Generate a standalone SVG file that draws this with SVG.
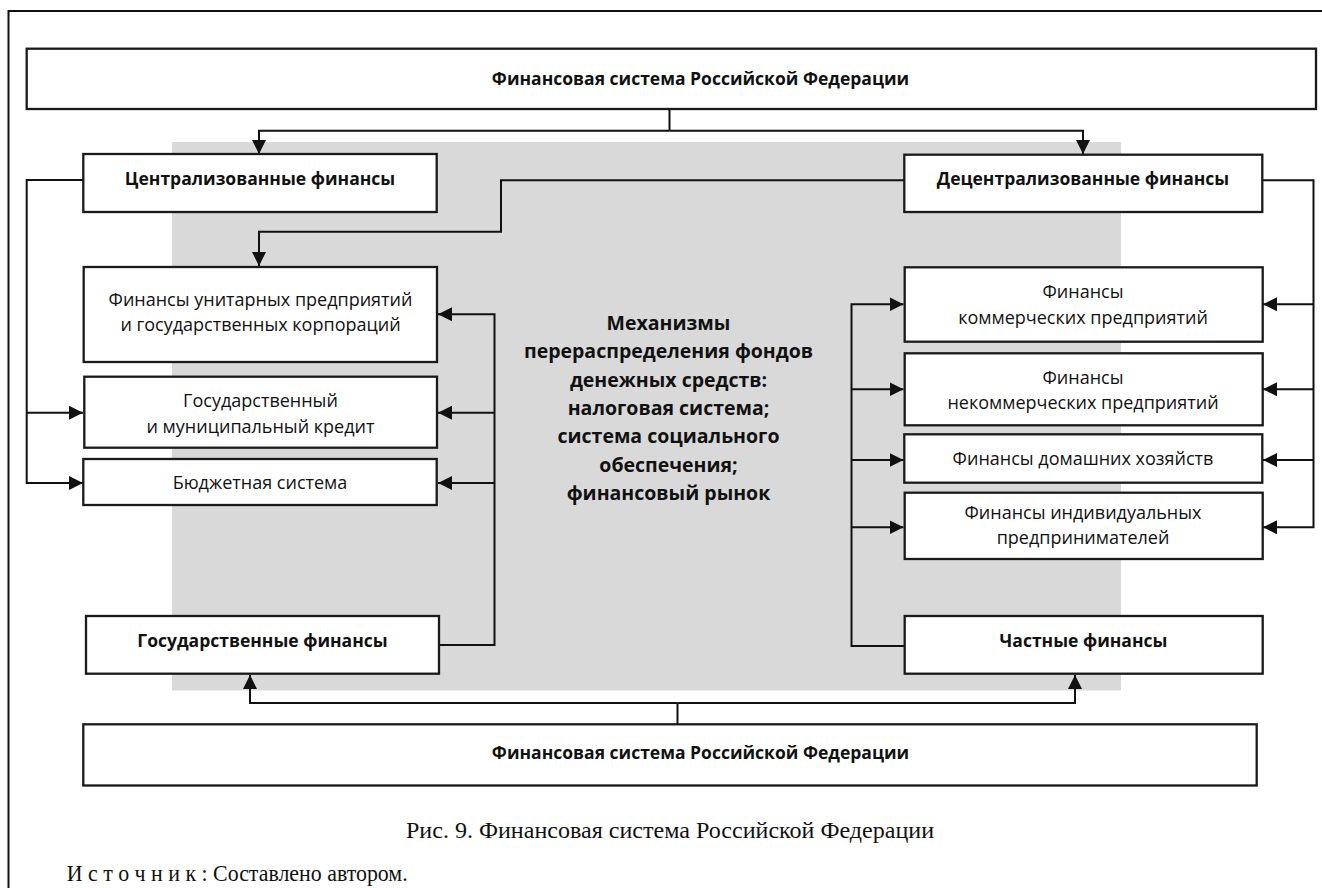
<svg xmlns="http://www.w3.org/2000/svg" width="1322" height="888" viewBox="0 0 1322 888">
  <defs>
    <marker id="arrow" markerUnits="userSpaceOnUse" markerWidth="15" markerHeight="14" refX="14" refY="7" orient="auto">
      <path d="M0,0 L14,7 L0,14 z" fill="#111"/>
    </marker>
    <style>
      .frame { fill: none; stroke: #111; stroke-width: 2; }
      .box { fill: #fff; stroke: #1a1a1a; stroke-width: 2.3; }
      .band { fill: #d9d9d9; }
      .wire { fill: none; stroke: #111; stroke-width: 2; }
      .wire.arr { marker-end: url(#arrow); }
      .t { font-family: "Open Sans", "Liberation Sans", sans-serif; font-size: 18px; fill: #111; text-anchor: middle; }
      .b { font-weight: 700; font-size: 17.5px; }
      .mid { font-family: "Open Sans", "Liberation Sans", sans-serif; font-weight: 700; font-size: 19.5px; fill: #111; text-anchor: middle; }
      .cap { font-family: "Liberation Serif", "Times New Roman", serif; font-size: 24px; fill: #111; }
    </style>
  </defs>

  <rect width="1322" height="888" fill="#fff"/>

  <!-- page frame -->
  <path class="frame" d="M8.5,888 V11 H1322"/>

  <!-- grey background of the redistribution mechanisms -->
  <rect class="band" x="172" y="142" width="949" height="548.5"/>

  <g id="mechanisms">
    <text class="mid" x="668.5" y="329.8">Механизмы</text>
    <text class="mid" x="668.5" y="358.1">перераспределения фондов</text>
    <text class="mid" x="668.5" y="386.5">денежных средств:</text>
    <text class="mid" x="668.5" y="414.8">налоговая система;</text>
    <text class="mid" x="668.5" y="443.1">система социального</text>
    <text class="mid" x="668.5" y="471.5">обеспечения;</text>
    <text class="mid" x="668.5" y="499.8">финансовый рынок</text>
  </g>

  <!-- connectors -->
  <g id="connectors">
    <path class="wire" d="M669.5,109 V130.7"/>
    <path class="wire arr" d="M669.5,130.7 H259 V154"/>
    <path class="wire arr" d="M669.5,130.7 H1083 V154"/>

    <path class="wire arr" d="M83,180 H26.7 V483 H83"/>
    <path class="wire arr" d="M26.7,412.7 H83"/>

    <path class="wire arr" d="M904,180.3 H501 V231.7 H259 V266"/>

    <path class="wire arr" d="M1262,180.3 H1313.5 V527.3 H1263"/>
    <path class="wire arr" d="M1313.5,304.3 H1263"/>
    <path class="wire arr" d="M1313.5,389.3 H1263"/>
    <path class="wire arr" d="M1313.5,460 H1263"/>

    <path class="wire arr" d="M439,645 H494.5 V314.3 H438"/>
    <path class="wire arr" d="M494.5,412.7 H438"/>
    <path class="wire arr" d="M494.5,483 H438"/>

    <path class="wire arr" d="M904.5,646 H851.5 V304.3 H903.5"/>
    <path class="wire arr" d="M851.5,389.3 H903.5"/>
    <path class="wire arr" d="M851.5,460 H903.5"/>
    <path class="wire arr" d="M851.5,527.3 H903.5"/>

    <path class="wire" d="M677.5,724.3 V703"/>
    <path class="wire arr" d="M677.5,703 H250 V675"/>
    <path class="wire arr" d="M677.5,703 H1075 V675"/>
  </g>

  <g id="fin-system-top">
    <rect class="box" x="26.7" y="48.7" width="1289.3" height="60.3"/>
    <text class="t b" x="700.5" y="85">Финансовая система Российской Федерации</text>
  </g>

  <g id="centralized">
    <rect class="box" x="83.3" y="154" width="353.4" height="58"/>
    <text class="t b" x="260" y="185">Централизованные финансы</text>
  </g>

  <g id="decentralized">
    <rect class="box" x="904.3" y="154.7" width="358" height="57.3"/>
    <text class="t b" x="1083" y="185">Децентрализованные финансы</text>
  </g>

  <g id="unitary">
    <rect class="box" x="83.7" y="267" width="353.3" height="95"/>
    <text class="t" x="260.5" y="306">Финансы унитарных предприятий</text>
    <text class="t" x="260.5" y="331">и государственных корпораций</text>
  </g>

  <g id="public-credit">
    <rect class="box" x="84.3" y="376.7" width="352.7" height="71"/>
    <text class="t" x="260.5" y="407">Государственный</text>
    <text class="t" x="260.5" y="433">и муниципальный кредит</text>
  </g>

  <g id="budget">
    <rect class="box" x="83.3" y="459" width="353.4" height="46"/>
    <text class="t" x="260" y="489">Бюджетная система</text>
  </g>

  <g id="public-finance">
    <rect class="box" x="86" y="616" width="353" height="57.7"/>
    <text class="t b" x="262.5" y="647">Государственные финансы</text>
  </g>

  <g id="commercial">
    <rect class="box" x="904.7" y="267.3" width="358" height="74.4"/>
    <text class="t" x="1083" y="298.3">Финансы</text>
    <text class="t" x="1083" y="323.7">коммерческих предприятий</text>
  </g>

  <g id="noncommercial">
    <rect class="box" x="904.7" y="353.3" width="358" height="72"/>
    <text class="t" x="1083" y="383.7">Финансы</text>
    <text class="t" x="1083" y="409.3">некоммерческих предприятий</text>
  </g>

  <g id="households">
    <rect class="box" x="904.3" y="434.3" width="358" height="48.4"/>
    <text class="t" x="1083" y="465">Финансы домашних хозяйств</text>
  </g>

  <g id="entrepreneurs">
    <rect class="box" x="904.7" y="492.7" width="358" height="66.3"/>
    <text class="t" x="1083" y="518.7">Финансы индивидуальных</text>
    <text class="t" x="1083" y="544.3">предпринимателей</text>
  </g>

  <g id="private-finance">
    <rect class="box" x="904.7" y="616" width="358" height="57.7"/>
    <text class="t b" x="1083.5" y="647">Частные финансы</text>
  </g>

  <g id="fin-system-bottom">
    <rect class="box" x="83.3" y="724.3" width="1173.4" height="61.2"/>
    <text class="t b" x="700.5" y="759.3">Финансовая система Российской Федерации</text>
  </g>

  <text class="cap" x="406" y="838" textLength="528" lengthAdjust="spacingAndGlyphs">Рис. 9. Финансовая система Российской Федерации</text>
  <text class="cap" x="66.7" y="881" textLength="341" lengthAdjust="spacingAndGlyphs">И с т о ч н и к : Составлено автором.</text>
</svg>
